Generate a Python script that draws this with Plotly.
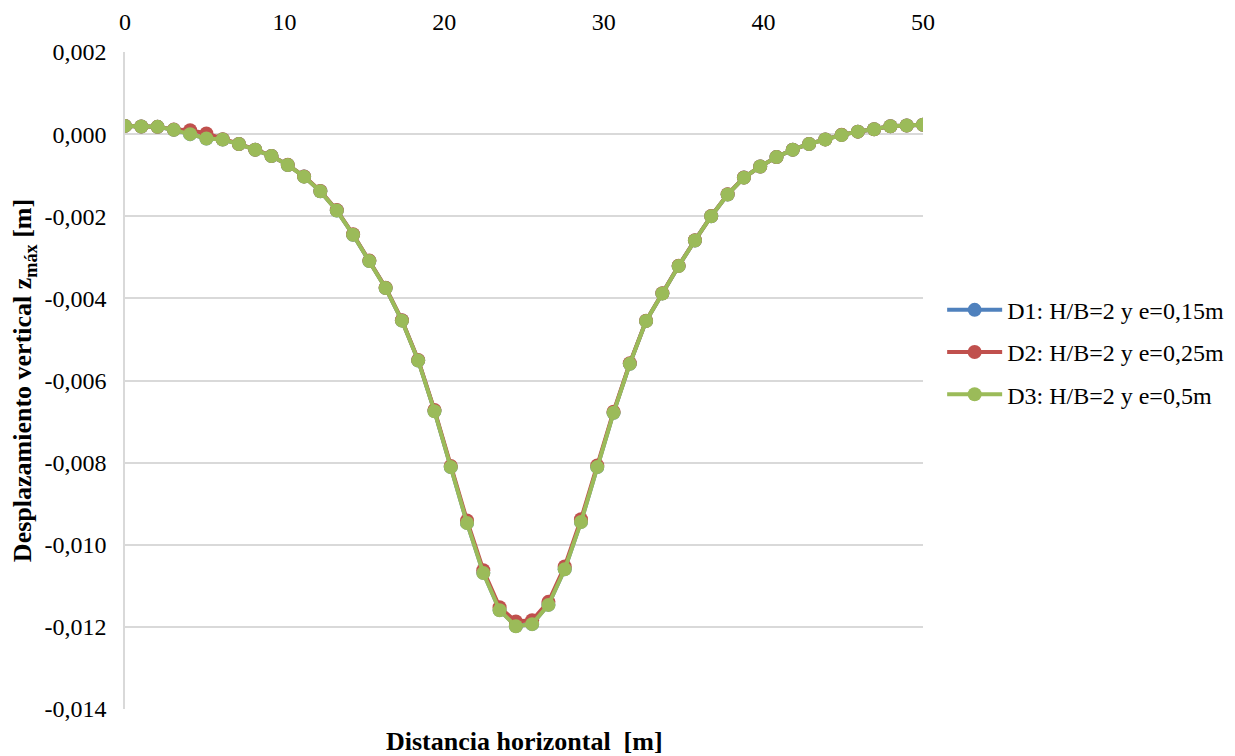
import plotly.graph_objects as go

# Horizontal distance (m)
distancia = [0.00, 1.02, 2.04, 3.06, 4.08, 5.10, 6.12, 7.14, 8.16, 9.18,
             10.20, 11.22, 12.24, 13.27, 14.29, 15.31, 16.33, 17.35, 18.37, 19.39,
             20.41, 21.43, 22.45, 23.47, 24.49, 25.51, 26.53, 27.55, 28.57, 29.59,
             30.61, 31.63, 32.65, 33.67, 34.69, 35.71, 36.73, 37.76, 38.78, 39.80,
             40.82, 41.84, 42.86, 43.88, 44.90, 45.92, 46.94, 47.96, 48.98, 50.00]

d3 = [0.00020, 0.000185, 0.000177, 0.000104, 0.00000, -0.000107, -0.000131, -0.000243, -0.000381, -0.000534,
      -0.000752, -0.001036, -0.001393, -0.001862, -0.002451, -0.003092, -0.003750, -0.004542, -0.005515, -0.006748,
      -0.008109, -0.009471, -0.010687, -0.011594, -0.011983, -0.011934, -0.011465, -0.010597, -0.009447, -0.008109,
      -0.006787, -0.005595, -0.004550, -0.003880, -0.003210, -0.002590, -0.002000, -0.001470, -0.001060, -0.000790,
      -0.000560, -0.000380, -0.000240, -0.000130, -0.000020, 0.000060, 0.000120, 0.000190, 0.000210, 0.000230]

d2 = [0.00020, 0.000185, 0.000177, 0.000110, 0.000097, 0.000015, -0.000125, -0.000240, -0.000378, -0.000530,
      -0.000748, -0.001030, -0.001385, -0.001850, -0.002440, -0.003080, -0.003740, -0.004530, -0.005500, -0.006720,
      -0.008080, -0.009410, -0.010620, -0.011520, -0.011870, -0.011840, -0.011390, -0.010530, -0.009380, -0.008070,
      -0.006760, -0.005580, -0.004545, -0.003875, -0.003205, -0.002585, -0.001995, -0.001465, -0.001058, -0.000788,
      -0.000558, -0.000378, -0.000238, -0.000128, -0.000018, 0.000060, 0.000120, 0.000190, 0.000210, 0.000230]

d1 = [0.00020, 0.000185, 0.000177, 0.000104, 0.000000, -0.000105, -0.000130, -0.000242, -0.000380, -0.000533,
      -0.000751, -0.001035, -0.001392, -0.001860, -0.002450, -0.003090, -0.003748, -0.004540, -0.005513, -0.006745,
      -0.008105, -0.009468, -0.010683, -0.011590, -0.011980, -0.011930, -0.011462, -0.010594, -0.009444, -0.008106,
      -0.006785, -0.005593, -0.004549, -0.003879, -0.003209, -0.002589, -0.001999, -0.001469, -0.001059, -0.000789,
      -0.000559, -0.000379, -0.000239, -0.000129, -0.000019, 0.000060, 0.000120, 0.000190, 0.000210, 0.000230]

y_tickvals = [0.002, 0.0, -0.002, -0.004, -0.006, -0.008, -0.010, -0.012, -0.014]
y_ticktext = ["0,002", "0,000", "-0,002", "-0,004", "-0,006", "-0,008", "-0,010", "-0,012", "-0,014"]

series = [
    ("D1: H/B=2 y e=0,15m", d1, "#4F81BD"),
    ("D2: H/B=2 y e=0,25m", d2, "#C0504D"),
    ("D3: H/B=2 y e=0,5m", d3, "#9BBB59"),
]

font_family = "Liberation Serif, Times New Roman, serif"
fs = 24
fs_title = 26

fig = go.Figure()
for i, (name, vals, color) in enumerate(series):
    fig.add_trace(go.Scatter(
        x=distancia, y=vals, name=name, mode="lines+markers",
        line=dict(color=color, width=4),
        marker=dict(color=color, size=14),
        legendgroup=f"g{i}",
    ))

fig.update_layout(
    width=1235, height=756,
    margin=dict(l=125, r=312, t=52, b=47, autoexpand=False),
    paper_bgcolor="white", plot_bgcolor="white",
    separators=",.",
    font=dict(family=font_family, size=fs, color="black"),
    showlegend=True,
    legend=dict(x=1.024, xanchor="left", y=0.543, yanchor="middle",
                font=dict(family=font_family, size=fs, color="black"),
                tracegroupgap=8, itemwidth=55, bgcolor="rgba(0,0,0,0)"),
    xaxis=dict(range=[0, 50], dtick=10, side="top", showgrid=False,
               zeroline=False, showline=False, ticks="", ticklabelstandoff=16,
               tickfont=dict(family=font_family, size=fs)),
    yaxis=dict(range=[-0.014, 0.002], tickmode="array", tickvals=y_tickvals, ticktext=y_ticktext,
               showgrid=True, gridcolor="#D9D9D9", gridwidth=1.5,
               zeroline=False, showline=True, linecolor="#D9D9D9", linewidth=1.5,
               ticks="", ticklabelstandoff=12, tickfont=dict(family=font_family, size=fs),
               title=dict(text="<b>Desplazamiento vertical z<sub>máx</sub> [m]</b>",
                          font=dict(family=font_family, size=fs_title), standoff=5)),
    annotations=[dict(text="<b>Distancia horizontal\u00a0 [m]</b>", x=0.5, y=-0.05,
                      xref="paper", yref="paper", xanchor="center", yanchor="middle",
                      showarrow=False, font=dict(family=font_family, size=fs_title))],
)

fig.write_html("out.html")
